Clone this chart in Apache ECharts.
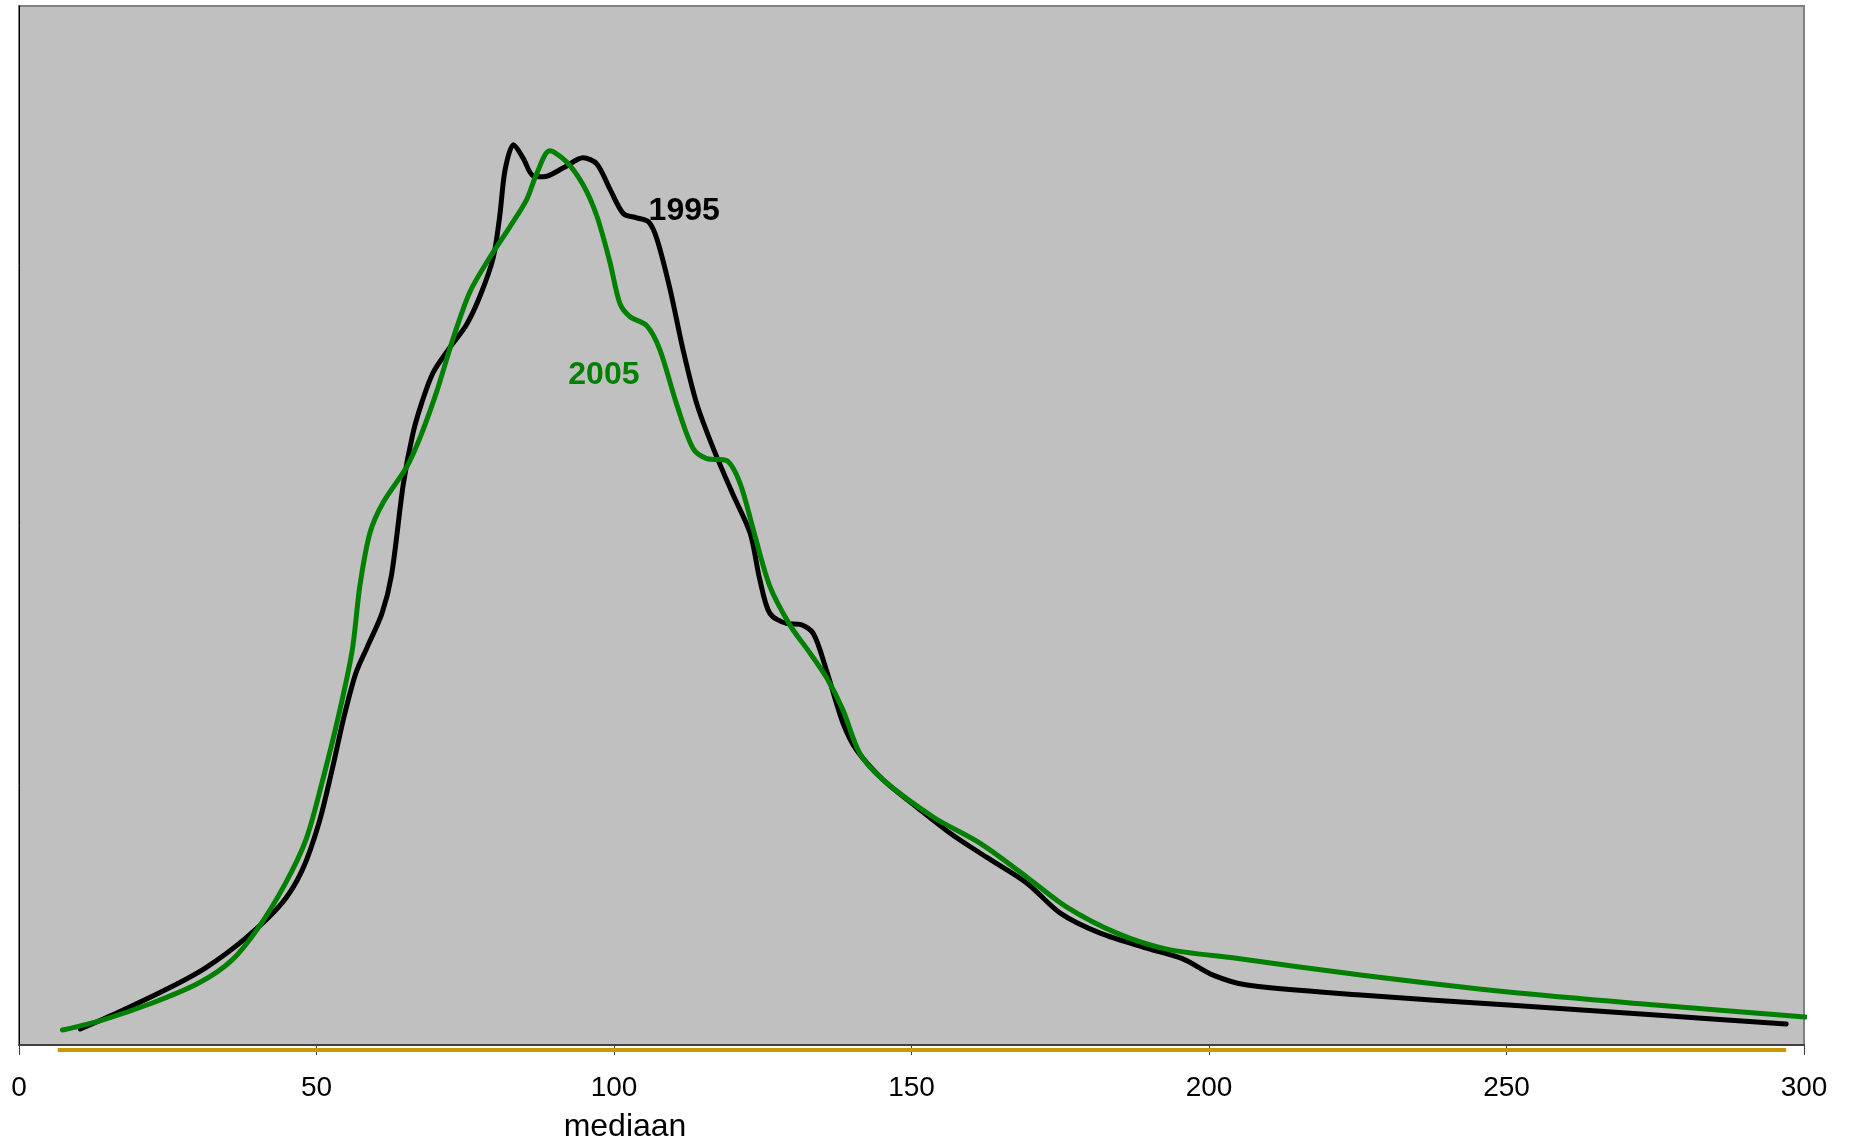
<!DOCTYPE html>
<html>
<head>
<meta charset="utf-8">
<script src="https://cdn.jsdelivr.net/npm/echarts@6/dist/echarts.min.js"></script>
<style>
html,body{margin:0;padding:0;background:#fff;}
#c{width:1849px;height:1140px;}
</style>
</head>
<body>
<div id="c"></div>
<script>
const xTicks = [0, 50, 100, 150, 200, 250, 300];
const axisName = 'mediaan';

const curve1995 = [[10.3,1.6],[16.8,3.3],[25.2,5.7],[31.3,7.7],[38.1,10.7],[44.2,14.2],[47.6,17.5],[50.4,22.2],[52.6,27.5],[54.6,32.8],[56.6,37.2],[58.5,39.8],[61.0,43.2],[62.6,47.0],[64.6,56.2],[66.2,61.2],[67.7,64.3],[69.6,67.3],[72.4,69.8],[75.2,72.1],[77.5,75.0],[79.7,78.8],[80.8,83.0],[81.7,87.6],[83.1,90.1],[84.7,88.8],[86.4,87.0],[88.1,86.9],[91.5,87.8],[94.8,88.8],[97.1,88.2],[99.3,85.7],[101.6,83.2],[103.8,82.8],[105.8,82.4],[107.2,80.7],[109.4,75.7],[111.6,69.6],[113.9,64.2],[116.7,59.7],[120.0,55.1],[122.9,51.2],[124.5,46.6],[126.2,43.2],[129.0,42.2],[131.3,42.1],[133.5,41.2],[135.7,37.5],[138.5,32.2],[140.8,29.5],[145.3,26.5],[150.9,23.8],[156.5,21.2],[162.6,18.8],[169.4,16.2],[175.0,13.2],[181.7,11.2],[190.1,9.6],[195.7,8.6],[200.7,7.0],[206.4,6.0],[225.5,5.0],[250.3,4.0],[275.1,3.0],[297.0,2.1]];

const curve2005 = [[7.3,1.5],[14.0,2.5],[22.4,4.2],[30.2,6.2],[35.8,8.5],[40.3,11.8],[44.8,16.2],[48.2,20.5],[50.9,26.2],[53.8,33.2],[56.0,39.5],[57.3,46.0],[59.0,51.3],[61.2,54.3],[65.1,57.8],[67.4,60.8],[70.2,65.4],[73.0,70.8],[75.8,75.4],[79.1,78.8],[82.5,81.9],[85.3,84.6],[87.0,87.2],[89.2,89.5],[92.0,88.4],[94.8,86.1],[97.1,83.0],[99.3,78.4],[101.0,74.2],[102.7,72.9],[105.5,72.0],[107.7,69.6],[110.5,64.2],[113.3,59.7],[115.6,58.7],[118.9,58.5],[121.2,56.2],[123.4,51.6],[126.2,45.9],[129.6,42.0],[132.5,39.6],[135.7,36.8],[138.5,33.5],[141.3,29.2],[145.3,26.5],[153.7,22.8],[161.5,20.2],[169.4,16.8],[176.1,13.8],[184.5,11.2],[192.9,9.6],[204.3,8.7],[225.5,7.0],[250.3,5.3],[275.1,4.0],[300.2,2.8]];

const baseLine = [[6.5,-0.5],[297,-0.5]];

const labels = [
  {name:'1995', coord:[111.8,83.5], color:'#000000'},
  {name:'2005', coord:[98.3,67.0], color:'#008000'}
];

const chart = echarts.init(document.getElementById('c'));
chart.setOption({
  animation:false,
  backgroundColor:'#ffffff',
  grid:{left:19,right:45,top:6,bottom:95,show:true,backgroundColor:'#c0c0c0',borderColor:'#808080',borderWidth:2},
  xAxis:{
    type:'value',min:0,max:300,interval:50,
    axisLine:{show:true,lineStyle:{color:'#404040',width:2}},
    axisTick:{show:true,length:10,lineStyle:{color:'#404040',width:1}},
    axisLabel:{fontFamily:'Liberation Sans, Arial, sans-serif',fontSize:28,color:'#000',margin:29,
      formatter:v=>xTicks.includes(v)?String(v):''},
    splitLine:{show:false}
  },
  yAxis:{
    type:'value',min:0,max:104,
    axisLine:{show:true,lineStyle:{color:'#000',width:1}},
    axisTick:{show:false},axisLabel:{show:false},splitLine:{show:false}
  },
  graphic:[{type:'text',x:625,y:1127,style:{text:axisName,fill:'#000',font:'32px "Liberation Sans", Arial, sans-serif',textAlign:'center',textVerticalAlign:'middle'}}],
  series:[
    {type:'line',data:baseLine,showSymbol:false,clip:false,z:1,lineStyle:{color:'#cc9900',width:4},silent:true},
    {type:'line',name:'1995',data:curve1995,showSymbol:false,smooth:0.3,
      lineStyle:{color:'#000000',width:5,cap:'round',join:'round'},itemStyle:{color:'#000'},
      markPoint:{symbol:'circle',symbolSize:0,data:[{coord:labels[0].coord,value:labels[0].name}],
        label:{show:true,position:'inside',formatter:labels[0].name,color:labels[0].color,fontSize:32,fontWeight:'bold',fontFamily:'Liberation Sans, Arial, sans-serif'}}},
    {type:'line',name:'2005',data:curve2005,showSymbol:false,smooth:0.3,
      lineStyle:{color:'#008000',width:5,cap:'round',join:'round'},itemStyle:{color:'#008000'},
      markPoint:{symbol:'circle',symbolSize:0,data:[{coord:labels[1].coord,value:labels[1].name}],
        label:{show:true,position:'inside',formatter:labels[1].name,color:labels[1].color,fontSize:32,fontWeight:'bold',fontFamily:'Liberation Sans, Arial, sans-serif'}}}
  ]
});
</script>
</body>
</html>
